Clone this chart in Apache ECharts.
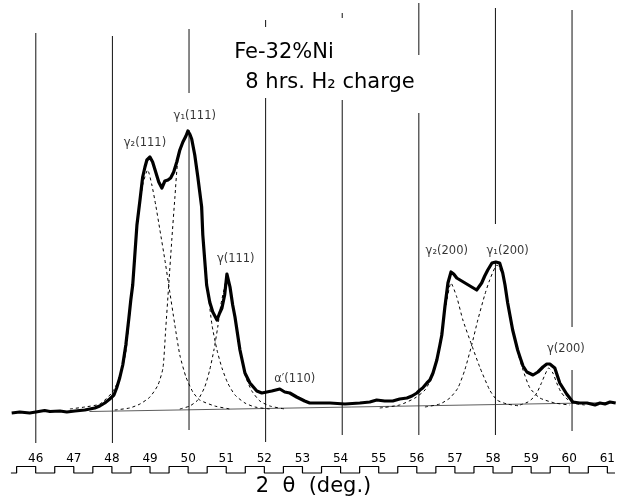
<!DOCTYPE html>
<html>
<head>
<meta charset="utf-8">
<script src="https://cdn.jsdelivr.net/npm/echarts@6/dist/echarts.min.js"></script>
<style>html,body{margin:0;padding:0;background:#fff}#c{width:618px;height:504px}</style>
</head>
<body>
<div id="c"></div>
<script>
// ---- data (2θ in degrees, intensity in arbitrary units) ----
const tickLabels = [46,47,48,49,50,51,52,53,54,55,56,57,58,59,60,61];
const gridDegrees = [46,48,50,52,54,56,58,60];

const measured = [[45.37,-1],[45.58,0],[45.84,-1],[46.00,0],[46.23,1.5],[46.37,0.5],[46.63,1],[46.81,0],[47.02,1],[47.28,2],[47.54,4],[47.67,6],[47.80,9],[47.93,13],[48.04,17],[48.11,24],[48.19,34],[48.27,47],[48.35,67],[48.43,94],[48.48,112],[48.53,127],[48.58,154],[48.64,187],[48.72,212],[48.79,235],[48.85,245],[48.90,252],[48.98,255],[49.05,250],[49.13,240],[49.21,230],[49.29,224],[49.37,231],[49.45,232],[49.52,234],[49.60,240],[49.68,250],[49.76,262],[49.84,270],[49.92,276],[49.97,281],[50.02,278],[50.07,273],[50.15,257],[50.23,235],[50.28,220],[50.33,205],[50.36,177],[50.41,152],[50.46,127],[50.54,110],[50.62,100],[50.73,92],[50.80,99],[50.86,104],[50.93,117],[50.99,138],[51.07,125],[51.14,107],[51.20,95],[51.33,62],[51.46,39],[51.59,29],[51.77,21],[51.90,19],[52.03,20],[52.16,21],[52.37,23],[52.50,20],[52.63,19],[52.81,15],[53.02,11],[53.15,9],[53.42,9],[53.68,9],[54.07,8],[54.46,9],[54.72,10],[54.90,12],[55.11,11],[55.32,11],[55.50,13],[55.69,14],[55.82,16],[55.95,19],[56.03,22],[56.10,24],[56.21,29],[56.29,32],[56.37,39],[56.47,52],[56.55,67],[56.60,77],[56.68,105],[56.76,129],[56.84,140],[56.91,138],[56.99,134],[57.12,131],[57.25,128],[57.38,125],[57.51,122],[57.64,129],[57.72,136],[57.80,142],[57.91,149],[58.01,150],[58.11,149],[58.19,139],[58.25,127],[58.32,109],[58.45,82],[58.58,62],[58.64,55],[58.72,46],[58.82,40],[58.98,37],[59.11,40],[59.24,45],[59.34,48],[59.42,48],[59.55,44],[59.68,29],[59.86,18],[60.02,10],[60.20,9],[60.39,9],[60.60,7],[60.73,9],[60.86,8],[60.99,10],[61.14,9]];

const gamma2_111 = [[46.89,3],[47.28,5],[47.67,8],[47.98,19],[48.19,34],[48.35,60],[48.45,97],[48.56,144],[48.66,190],[48.79,227],[48.92,242],[49.03,227],[49.13,207],[49.24,182],[49.37,152],[49.47,127],[49.63,87],[49.76,57],[49.92,35],[50.10,20],[50.28,12],[50.67,6],[51.07,3]];
const gamma1_111 = [[48.06,2],[48.45,4],[48.72,8],[48.98,15],[49.19,27],[49.32,44],[49.39,82],[49.47,127],[49.55,172],[49.63,214],[49.71,252],[49.84,269],[49.97,279],[50.02,277],[50.10,267],[50.18,250],[50.26,227],[50.33,197],[50.41,157],[50.49,122],[50.60,87],[50.73,62],[50.86,44],[51.01,29],[51.20,17],[51.46,9],[51.72,5],[52.11,3]];
const gamma_111 = [[49.76,3],[50.02,6],[50.23,12],[50.41,25],[50.54,42],[50.65,62],[50.75,85],[50.83,107],[50.91,122],[50.99,135],[51.07,125],[51.17,102],[51.27,77],[51.38,52],[51.48,35],[51.64,21],[51.85,11],[52.11,6],[52.50,3]];
const gamma2_200 = [[54.98,4],[55.50,7],[55.90,14],[56.16,22],[56.37,37],[56.50,57],[56.60,82],[56.71,107],[56.84,129],[56.99,115],[57.15,92],[57.38,67],[57.59,45],[57.85,22],[58.04,12],[58.30,8],[58.64,6]];
const gamma1_200 = [[56.16,5],[56.55,8],[56.81,14],[57.02,24],[57.20,42],[57.38,67],[57.54,92],[57.72,117],[57.85,132],[58.04,147],[58.19,137],[58.32,109],[58.45,82],[58.58,60],[58.72,42],[58.90,24],[59.16,14],[59.55,9],[59.94,7]];
const gamma_200 = [[58.64,7],[58.85,10],[58.98,14],[59.08,19],[59.19,28],[59.29,37],[59.39,44],[59.50,39],[59.60,29],[59.71,20],[59.84,14],[60.02,9],[60.33,7]];
const baseline = [[47.4,0.5],[61.1,9.5]];

const peakNames = ['γ₂(111)','γ₁(111)','γ(111)','α′(110)','γ₂(200)','γ₁(200)','γ(200)'];
const peakLabelAt = [[48.85,269],[50.15,296],[51.22,153],[52.76,33],[56.73,161],[58.32,161],[59.84,63]];

// ---- layout-only constants (chart-paper grid line extents, intensity units) ----
const gridSegments = {
  46: [[379,-31]],
  48: [[376,-31]],
  50: [[383,319],[282,-18]],
  52: [[392,385],[314,-30]],
  54: [[399,394],[312,-23]],
  56: [[409,357],[299,-23]],
  58: [[404,188],[150,-23]],
  60: [[402,85],[42,-19]]
};
const RULER_HI = 9.5, RULER_LO = 3;

const gridLineData = [];
gridDegrees.forEach(d => {
  (gridSegments[d] || []).forEach(s => {
    gridLineData.push([d, s[0]], [d, s[1]], '-');
  });
});

const ruler = [[45.35, RULER_LO]];
tickLabels.forEach(n => {
  ruler.push([n - 0.5, RULER_LO], [n - 0.5, RULER_HI], [n, RULER_HI], [n, RULER_LO]);
});
ruler.push([61.2, RULER_LO]);

const FONT = 'DejaVu Sans';
const dashStyle = { color: '#000', width: 1, type: [3, 3] };
function comp(name, data) {
  return { name, type: 'line', data, xAxisIndex: 0, yAxisIndex: 0, showSymbol: false, symbol: 'none',
    smooth: 0.2, lineStyle: dashStyle, silent: true, z: 3 };
}

const chart = echarts.init(document.getElementById('c'), null, { renderer: 'canvas' });
chart.setOption({
  animation: false,
  backgroundColor: '#fff',
  textStyle: { fontFamily: FONT, color: '#000' },
  title: [
    { text: 'Fe-32%Ni', left: 279, top: 37, textAlign: 'center',
      textStyle: { fontFamily: FONT, fontSize: 21, fontWeight: 'normal', color: '#000' } },
    { text: '8 hrs. H₂ charge', left: 325, top: 67, textAlign: 'center',
      textStyle: { fontFamily: FONT, fontSize: 21, fontWeight: 'normal', color: '#000' } }
  ],
  grid: [
    { left: 9, right: 0, top: 0, bottom: 52 },
    { left: 9, right: 0, top: 452, height: 24 }
  ],
  xAxis: [
    { type: 'value', gridIndex: 0, min: 45.3, max: 61.2,
      axisLine: { show: false }, axisTick: { show: false }, axisLabel: { show: false }, splitLine: { show: false },
      name: '2  θ  (deg.)', nameLocation: 'middle', nameGap: 24,
      nameTextStyle: { fontFamily: FONT, fontSize: 21, color: '#000' } },
    { type: 'value', gridIndex: 1, min: 45.3, max: 61.2, position: 'top',
      axisLine: { show: false }, axisTick: { show: false }, splitLine: { show: false },
      axisLabel: { inside: true, margin: 1, fontSize: 12, color: '#000', fontFamily: FONT, customValues: tickLabels } }
  ],
  yAxis: [
    { type: 'value', gridIndex: 0, min: -40, max: 412, show: false },
    { type: 'value', gridIndex: 1, min: 0, max: 24, show: false }
  ],
  series: [
    { name: 'grid', type: 'line', data: gridLineData, showSymbol: false, symbol: 'none', connectNulls: false,
      lineStyle: { color: '#111', width: 1 }, silent: true, z: 1 },
    { name: 'baseline', type: 'line', data: baseline, showSymbol: false, symbol: 'none',
      lineStyle: { color: '#333', width: 0.8 }, silent: true, z: 2 },
    comp('γ₂(111) fit', gamma2_111),
    comp('γ₁(111) fit', gamma1_111),
    comp('γ(111) fit', gamma_111),
    comp('γ₂(200) fit', gamma2_200),
    comp('γ₁(200) fit', gamma1_200),
    comp('γ(200) fit', gamma_200),
    { name: 'measured', type: 'line', data: measured, showSymbol: false, symbol: 'none',
      lineStyle: { color: '#000', width: 3.2, join: 'round' }, z: 5 },
    { name: 'peaks', type: 'scatter', symbolSize: 0, silent: true,
      data: peakLabelAt.map((p, i) => ({ value: p, name: peakNames[i] })),
      label: { show: true, position: 'inside', formatter: p => p.name, fontSize: 11.5,
        color: '#000', textBorderWidth: 0, fontFamily: FONT },
      z: 6 },
    { name: 'ruler', type: 'line', xAxisIndex: 1, yAxisIndex: 1, data: ruler, showSymbol: false, symbol: 'none',
      lineStyle: { color: '#000', width: 1.2 }, silent: true }
  ]
});
</script>
</body>
</html>
